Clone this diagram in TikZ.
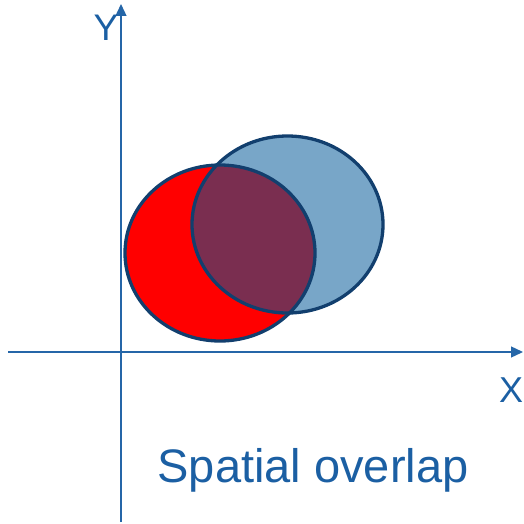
\documentclass[tikz,border=0pt]{standalone}
\usepackage{fontspec}
\setmainfont{Liberation Sans}
\usetikzlibrary{arrows.meta}
\definecolor{axiscol}{HTML}{2566A8}
\definecolor{textcol}{HTML}{1B5FA3}
\definecolor{edgecol}{HTML}{123F6E}
\definecolor{bluefill}{HTML}{78A6C8}
\definecolor{overlapcol}{HTML}{7A2E50}
\tikzset{
  axis/.style={draw=axiscol, line width=1.3pt, -{Triangle[length=12pt,width=11pt]}},
  blob/.style={draw=edgecol, line width=3.3pt},
  lbl/.style={text=textcol, inner sep=0pt}
}
\begin{document}
\begin{tikzpicture}[x=1pt,y=-1pt]
\useasboundingbox (0,0) rectangle (523,524);
% ellipses
\fill[red] (220,253) ellipse [x radius=95, y radius=88];
\fill[bluefill] (287.5,224.5) ellipse [x radius=95.5, y radius=88.5];
\begin{scope}
  \clip (220,253) ellipse [x radius=95, y radius=88];
  \fill[overlapcol] (287.5,224.5) ellipse [x radius=95.5, y radius=88.5];
\end{scope}
\draw[blob] (220,253) ellipse [x radius=95, y radius=88];
\draw[blob] (287.5,224.5) ellipse [x radius=95.5, y radius=88.5];
% axes
\coordinate (xs) at (8,352);
\coordinate (xe) at (523,352);
\coordinate (ys) at (121,522);
\coordinate (ye) at (121,4);
\draw[axis] (xs) -- (xe);
\draw[axis] (ys) -- (ye);
% labels
\node[lbl, font=\fontsize{37}{37}\selectfont] (ylab) at (106,28) {Y};
\node[lbl, font=\fontsize{36}{36}\selectfont] (xlab) at (511,390) {X};
\node[lbl, font=\fontsize{47}{47}\selectfont, anchor=base] (title) at (313,482) {Spatial overlap};
\end{tikzpicture}
\end{document}
